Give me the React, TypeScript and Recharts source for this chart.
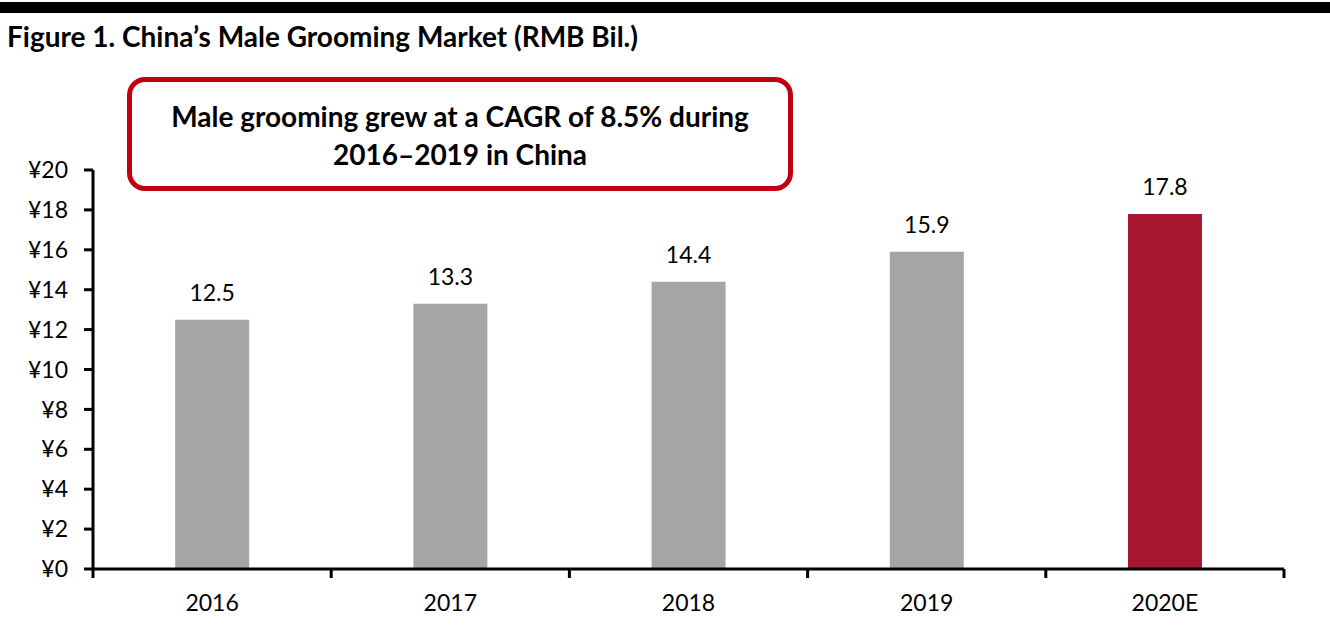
import { BarChart, Bar, XAxis, YAxis, Cell, LabelList } from 'recharts'

const years = ['2016', '2017', '2018', '2019', '2020E']
const marketSize = [12.5, 13.3, 14.4, 15.9, 17.8]
const yTicks = [0, 2, 4, 6, 8, 10, 12, 14, 16, 18, 20]

const GRAY = '#a5a5a5'
const RED = '#a8172f'
const FONT = 'Lato, "Liberation Sans", sans-serif'

const data = years.map((y, i) => ({ year: y, value: marketSize[i] }))

const PLOT_LEFT = 93
const PLOT_RIGHT = 1284
const BAND = (PLOT_RIGHT - PLOT_LEFT) / years.length

function YearTick(props: any) {
  const { x, y, payload, index } = props
  return (
    <g>
      <line x1={x - BAND / 2} x2={x - BAND / 2} y1={y - 8} y2={y + 1} stroke="#000" strokeWidth={3} />
      {index === years.length - 1 && (
        <line x1={x + BAND / 2} x2={x + BAND / 2} y1={y - 8} y2={y + 1} stroke="#000" strokeWidth={3} />
      )}
      <text x={x} y={y + 34} textAnchor="middle" fontSize={23} fontFamily={FONT} fill="#000">
        {payload.value}
      </text>
    </g>
  )
}

export default function App() {
  return (
    <div style={{ position: 'absolute', left: 0, top: 0, width: 1330, height: 634, background: '#fff', fontFamily: FONT }}>
      {/* top rule */}
      <div style={{ position: 'absolute', left: 0, top: 2, width: 1330, height: 11, background: '#000' }} />
      <div style={{ position: 'absolute', left: 7, top: 19, fontSize: 28, fontWeight: 700, color: '#000', whiteSpace: 'nowrap' }}>
        Figure 1. China’s Male Grooming Market (RMB Bil.)
      </div>

      <BarChart
        width={1330}
        height={634}
        data={data}
        margin={{ top: 170, right: 46, bottom: 0, left: 0 }}
        barCategoryGap="34.5%"
      >
        <YAxis
          width={93}
          domain={[0, 20]}
          ticks={yTicks}
          interval={0}
          tickFormatter={(v) => `¥${v}`}
          axisLine={{ stroke: '#000', strokeWidth: 3 }}
          tickLine={{ stroke: '#000', strokeWidth: 3 }}
          tickSize={9}
          tickMargin={16}
          tick={{ fontSize: 23, fontFamily: FONT, fill: '#000' }}
        />
        <XAxis
          dataKey="year"
          height={65}
          axisLine={{ stroke: '#000', strokeWidth: 3 }}
          tickLine={false}
          tick={<YearTick />}
          interval={0}
        />
        <Bar dataKey="value" isAnimationActive={false}>
          {data.map((d, i) => (
            <Cell key={d.year} fill={i === data.length - 1 ? RED : GRAY} />
          ))}
          <LabelList
            dataKey="value"
            position="top"
            offset={19}
            formatter={(v: any) => Number(v).toFixed(1)}
            style={{ fontSize: 23, fontFamily: FONT, fill: '#000' }}
          />
        </Bar>
      </BarChart>

      {/* callout box */}
      <div
        style={{
          position: 'absolute',
          left: 127,
          top: 77,
          width: 656,
          height: 102,
          border: '5px solid #c00010',
          borderRadius: 18,
          background: '#fff',
          display: 'flex',
          alignItems: 'center',
          justifyContent: 'center',
          textAlign: 'center',
          fontSize: 28,
          fontWeight: 700,
          lineHeight: '38px',
          paddingTop: 2,
          boxSizing: 'content-box',
          color: '#000',
        }}
      >
        Male grooming grew at a CAGR of 8.5% during
        <br />
        2016–2019 in China
      </div>
    </div>
  )
}
